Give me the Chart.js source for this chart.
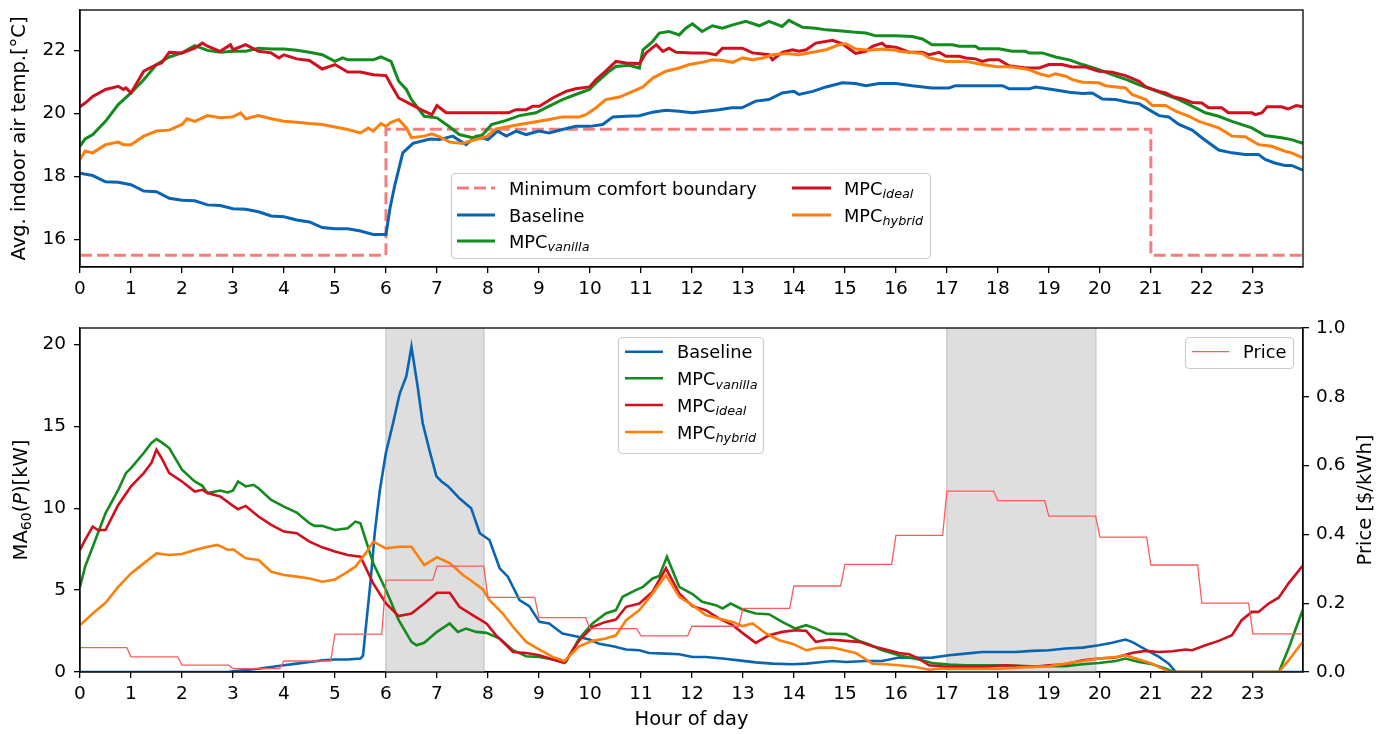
<!DOCTYPE html>
<html>
<head>
<meta charset="utf-8">
<script src="https://cdn.jsdelivr.net/npm/chart.js@4.4.1/dist/chart.umd.min.js"></script>
<style>
  body { margin: 0; background: #fff; }
  #wrap { position: relative; width: 1386px; height: 734px; }
  #tempBox { position: absolute; left: 0; top: 0; width: 1386px; height: 310px; }
  #powerBox { position: absolute; left: 0; top: 310px; width: 1386px; height: 424px; }
</style>
</head>
<body>
<div id="wrap">
  <div id="tempBox"><canvas id="tempChart"></canvas></div>
  <div id="powerBox"><canvas id="powerChart"></canvas></div>
</div>
<script>
// Hours axis (minute resolution, last sample at 23:59)
const dayEnd = 23 + 59 / 60;
const hourTicks = [0,1,2,3,4,5,6,7,8,9,10,11,12,13,14,15,16,17,18,19,20,21,22,23];

// Minimum comfort boundary: [start hour, level]
const comfortSteps = [[0, 15.5], [6, 19.5], [21, 15.5], [dayEnd, 15.5]];

// Average indoor air temperature [°C], [hour, value]
const tempBaseline = [[0,18.10],[0.25,18.03],[0.5,17.83],[0.75,17.82],[1,17.74],[1.25,17.54],[1.5,17.52],[1.75,17.31],[2,17.25],[2.25,17.23],[2.5,17.10],[2.75,17.08],[3,16.98],[3.25,16.96],[3.5,16.88],[3.75,16.75],[4,16.72],[4.25,16.62],[4.5,16.56],[4.75,16.38],[5,16.34],[5.25,16.34],[5.5,16.27],[5.75,16.16],[6,16.16],[6.08,17.0],[6.17,17.70],[6.33,18.75],[6.53,19.05],[6.86,19.19],[7.05,19.17],[7.31,19.28],[7.57,19.01],[7.77,19.28],[8.0,19.17],[8.19,19.44],[8.36,19.28],[8.55,19.44],[8.75,19.33],[9.0,19.44],[9.2,19.38],[9.46,19.49],[9.72,19.59],[10,19.59],[10.25,19.65],[10.45,19.89],[10.71,19.91],[10.97,19.93],[11.23,20.04],[11.49,20.10],[11.75,20.07],[12.01,20.02],[12.27,20.07],[12.53,20.12],[12.78,20.18],[12.98,20.18],[13.25,20.39],[13.51,20.44],[13.77,20.65],[14.0,20.70],[14.1,20.60],[14.37,20.70],[14.63,20.84],[14.95,20.97],[15.21,20.95],[15.41,20.88],[15.67,20.95],[16.0,20.95],[16.32,20.88],[16.71,20.81],[17.04,20.81],[17.17,20.88],[18.09,20.88],[18.22,20.78],[18.61,20.78],[18.74,20.84],[19.07,20.76],[19.4,20.67],[19.66,20.63],[19.85,20.65],[20.05,20.46],[20.31,20.44],[20.57,20.35],[20.77,20.31],[20.96,20.12],[21.16,19.93],[21.35,19.89],[21.55,19.65],[21.81,19.47],[22.0,19.23],[22.33,18.84],[22.59,18.75],[22.85,18.70],[23.11,18.70],[23.24,18.54],[23.43,18.43],[23.63,18.35],[23.76,18.35],[23.98,18.20]];
const tempVanilla = [[0,18.96],[0.1,19.19],[0.25,19.33],[0.5,19.75],[0.75,20.28],[1,20.65],[1.25,21.07],[1.5,21.55],[1.75,21.79],[2,21.92],[2.25,22.15],[2.5,22.00],[2.75,21.94],[3,21.97],[3.25,21.97],[3.5,22.07],[3.75,22.04],[4,22.04],[4.25,22.00],[4.5,21.94],[4.75,21.86],[5,21.65],[5.15,21.76],[5.25,21.70],[5.5,21.70],[5.75,21.70],[5.9,21.79],[6.1,21.65],[6.25,21.02],[6.4,20.76],[6.5,20.44],[6.75,19.91],[7,19.86],[7.25,19.57],[7.44,19.33],[7.7,19.23],[7.9,19.33],[8.07,19.65],[8.36,19.78],[8.62,19.93],[8.94,20.02],[9.2,20.23],[9.46,20.44],[9.72,20.60],[9.99,20.76],[10.12,20.97],[10.38,21.34],[10.51,21.49],[10.77,21.53],[10.97,21.44],[11.04,22.02],[11.23,22.28],[11.36,22.55],[11.55,22.60],[11.75,22.49],[11.88,22.70],[12.01,22.84],[12.2,22.60],[12.4,22.78],[12.6,22.70],[12.8,22.81],[13.06,22.92],[13.32,22.78],[13.51,22.92],[13.77,22.76],[13.9,22.95],[14.17,22.73],[14.43,22.70],[14.63,22.65],[14.89,22.62],[15.15,22.58],[15.41,22.55],[15.61,22.46],[16.0,22.46],[16.32,22.44],[16.52,22.36],[16.71,22.18],[17.11,22.18],[17.24,22.13],[17.56,22.13],[17.63,22.05],[18.02,22.05],[18.28,21.97],[18.54,21.97],[18.61,21.92],[18.87,21.92],[19.13,21.79],[19.4,21.70],[19.66,21.55],[19.98,21.39],[20.24,21.23],[20.5,21.09],[20.77,20.91],[21.03,20.76],[21.29,20.60],[21.55,20.44],[21.81,20.23],[22.07,20.02],[22.33,19.91],[22.59,19.75],[22.98,19.54],[23.24,19.30],[23.56,19.23],[23.76,19.17],[23.98,19.05]];
const tempIdeal = [[0,20.21],[0.1,20.33],[0.25,20.54],[0.5,20.76],[0.75,20.86],[0.85,20.76],[0.9,20.81],[1,20.65],[1.25,21.34],[1.5,21.55],[1.6,21.60],[1.75,21.94],[2,21.92],[2.25,22.07],[2.4,22.23],[2.5,22.13],[2.75,21.97],[2.95,22.18],[3,22.02],[3.25,22.18],[3.5,21.97],[3.75,21.92],[3.9,21.76],[4,21.86],[4.25,21.73],[4.5,21.68],[4.75,21.41],[5,21.55],[5.25,21.31],[5.5,21.31],[5.75,21.23],[6,21.20],[6.1,20.91],[6.25,20.49],[6.5,20.28],[6.75,20.07],[6.9,19.96],[7,20.25],[7.18,20.02],[8.4,20.02],[8.55,20.12],[8.75,20.12],[8.88,20.23],[9.01,20.23],[9.27,20.49],[9.53,20.70],[9.72,20.78],[9.99,20.84],[10.12,21.07],[10.31,21.34],[10.51,21.65],[10.71,21.60],[10.97,21.58],[11.1,21.92],[11.3,22.18],[11.43,21.97],[11.55,22.07],[11.69,21.94],[12.01,21.92],[12.27,21.92],[12.47,21.86],[12.6,22.07],[12.99,22.07],[13.19,21.92],[13.51,21.86],[13.58,21.70],[13.77,21.94],[13.97,22.02],[14.1,21.97],[14.24,22.02],[14.43,22.23],[14.76,22.32],[14.95,22.21],[15.15,21.97],[15.21,21.90],[15.41,21.97],[15.54,22.13],[15.73,22.23],[15.8,22.13],[16.0,22.10],[16.26,21.94],[16.52,21.94],[16.65,21.86],[16.85,21.94],[16.98,21.81],[17.24,21.81],[17.37,21.76],[17.56,21.73],[17.69,21.65],[17.82,21.70],[18.02,21.70],[18.22,21.51],[18.54,21.44],[18.81,21.44],[19.0,21.55],[19.26,21.55],[19.46,21.47],[19.72,21.47],[19.98,21.34],[20.24,21.31],[20.5,21.20],[20.77,21.02],[20.9,20.84],[21.16,20.70],[21.29,20.65],[21.42,20.54],[21.62,20.46],[21.81,20.35],[22.0,20.33],[22.13,20.18],[22.39,20.18],[22.52,20.02],[22.98,20.02],[23.05,19.96],[23.18,20.02],[23.28,20.21],[23.56,20.21],[23.69,20.14],[23.85,20.25],[23.98,20.21]];
const tempHybrid = [[0,18.54],[0.1,18.80],[0.25,18.75],[0.5,19.01],[0.75,19.09],[0.85,19.01],[1,19.01],[1.25,19.28],[1.5,19.44],[1.75,19.47],[2,19.65],[2.1,19.83],[2.25,19.75],[2.5,19.93],[2.75,19.86],[3,19.89],[3.15,20.02],[3.25,19.83],[3.5,19.93],[3.75,19.83],[4,19.75],[4.25,19.72],[4.5,19.68],[4.75,19.65],[5,19.57],[5.25,19.49],[5.5,19.38],[5.65,19.54],[5.75,19.44],[5.9,19.68],[6,19.59],[6.1,19.72],[6.25,19.81],[6.4,19.54],[6.5,19.23],[6.75,19.28],[6.9,19.35],[7.05,19.26],[7.25,19.09],[7.51,19.05],[7.7,19.15],[7.97,19.26],[8.16,19.51],[8.36,19.57],[8.62,19.65],[8.88,19.72],[9.2,19.81],[9.46,19.89],[9.79,19.89],[9.92,19.96],[10.12,20.18],[10.31,20.44],[10.58,20.52],[10.84,20.70],[11.04,20.84],[11.23,21.12],[11.49,21.34],[11.75,21.44],[11.95,21.55],[12.2,21.62],[12.4,21.70],[12.6,21.68],[12.8,21.62],[12.99,21.76],[13.19,21.70],[13.39,21.76],[13.58,21.86],[13.84,21.90],[14.1,21.86],[14.37,21.94],[14.63,22.02],[14.89,22.18],[15.02,22.21],[15.21,22.04],[15.47,22.00],[15.73,22.04],[16.0,22.00],[16.06,21.97],[16.52,21.90],[16.65,21.76],[16.98,21.65],[17.37,21.65],[17.69,21.55],[17.95,21.49],[18.28,21.47],[18.61,21.39],[18.81,21.26],[19.0,21.18],[19.13,21.26],[19.33,21.18],[19.46,21.07],[19.66,20.99],[19.98,20.97],[20.11,20.88],[20.5,20.81],[20.63,20.60],[20.9,20.44],[21.03,20.25],[21.29,20.25],[21.49,20.07],[21.75,19.91],[21.94,19.75],[22.33,19.54],[22.59,19.28],[22.85,19.26],[23.11,19.01],[23.37,18.96],[23.63,18.80],[23.76,18.75],[23.98,18.59]];

// 60-minute moving average of power [kW], [hour, value]
const powerBaseline = [[0,0],[2.9,0],[3,0.04],[3.5,0.2],[4,0.41],[4.25,0.51],[4.5,0.61],[4.75,0.71],[5,0.76],[5.25,0.76],[5.5,0.82],[5.55,1.0],[5.62,3.16],[5.7,5.6],[5.78,8.5],[5.88,11.1],[6.0,13.4],[6.14,15.2],[6.27,17.0],[6.4,18.06],[6.5,19.85],[6.62,17.45],[6.72,15.2],[6.85,13.57],[6.99,11.94],[7.09,11.63],[7.22,11.33],[7.35,10.9],[7.44,10.6],[7.67,10.0],[7.84,8.47],[8.03,8.06],[8.23,6.33],[8.39,5.82],[8.62,4.39],[8.81,4.02],[9.01,3.06],[9.2,2.96],[9.46,2.35],[9.72,2.18],[9.99,1.98],[10.18,1.73],[10.45,1.57],[10.71,1.37],[10.97,1.33],[11.16,1.16],[11.49,1.12],[11.75,1.08],[12.01,0.92],[12.27,0.92],[12.6,0.82],[12.92,0.71],[13.25,0.59],[13.58,0.51],[13.97,0.47],[14.24,0.51],[14.56,0.61],[14.76,0.67],[15.02,0.61],[15.41,0.67],[15.73,0.67],[16.06,0.88],[16.39,0.86],[16.71,0.88],[17.04,1.02],[17.37,1.12],[17.69,1.22],[18.35,1.22],[18.67,1.29],[19.0,1.33],[19.33,1.43],[19.66,1.49],[19.98,1.63],[20.24,1.78],[20.5,1.98],[20.63,1.84],[20.9,1.37],[21.16,0.92],[21.35,0.51],[21.49,0],[23.98,0]];
const powerVanilla = [[0,5.2],[0.1,6.43],[0.25,7.65],[0.5,9.69],[0.75,11.12],[0.9,12.14],[1,12.45],[1.25,13.37],[1.4,13.98],[1.5,14.22],[1.6,14.02],[1.75,13.67],[2,12.35],[2.25,11.63],[2.4,11.37],[2.5,10.92],[2.75,11.08],[2.9,10.96],[3,11.08],[3.1,11.63],[3.25,11.33],[3.4,11.43],[3.5,11.22],[3.75,10.51],[4,10.1],[4.25,9.73],[4.5,9.08],[4.6,8.92],[4.75,8.92],[5,8.67],[5.25,8.78],[5.4,9.18],[5.5,9.08],[5.75,6.63],[6,5.0],[6.25,3.16],[6.5,1.84],[6.6,1.63],[6.75,1.78],[7,2.45],[7.25,2.96],[7.41,2.45],[7.57,2.65],[7.77,2.45],[7.97,2.39],[8.23,2.04],[8.49,1.33],[8.75,0.96],[9.01,0.92],[9.27,0.76],[9.46,0.67],[9.53,0.61],[9.79,2.04],[10.05,2.96],[10.31,3.57],[10.51,3.78],[10.64,4.59],[10.9,5.0],[11.04,5.2],[11.23,5.71],[11.36,5.86],[11.51,7.04],[11.75,5.2],[12.01,4.76],[12.2,4.29],[12.47,4.08],[12.6,3.88],[12.76,4.18],[12.99,3.82],[13.25,3.57],[13.51,3.53],[13.77,3.06],[14.03,2.65],[14.24,2.86],[14.43,2.65],[14.63,2.35],[15.02,2.31],[15.28,1.9],[15.47,1.69],[15.73,1.33],[16.06,1.02],[16.26,0.88],[16.45,0.76],[16.71,0.55],[17.04,0.45],[17.37,0.41],[18.02,0.41],[18.67,0.35],[19.33,0.35],[19.66,0.47],[19.98,0.55],[20.31,0.67],[20.5,0.82],[20.77,0.61],[21.03,0.47],[21.29,0.2],[21.45,0],[23.51,0],[23.7,1.43],[23.83,2.55],[23.98,3.8]];
const powerIdeal = [[0,7.45],[0.1,8.06],[0.25,8.88],[0.35,8.67],[0.5,8.67],[0.6,9.29],[0.75,10.2],[1,11.33],[1.25,12.14],[1.4,12.76],[1.5,13.57],[1.6,13.06],[1.75,12.14],[2,11.63],[2.25,11.02],[2.4,11.12],[2.5,10.92],[2.75,10.71],[3,10.14],[3.1,9.94],[3.25,10.14],[3.5,9.49],[3.75,8.98],[4,8.57],[4.25,8.47],[4.5,7.96],[4.75,7.61],[5,7.35],[5.25,7.14],[5.5,7.04],[5.75,5.41],[6,4.18],[6.25,3.41],[6.5,3.57],[6.75,4.18],[7,4.84],[7.25,4.84],[7.44,3.98],[7.7,3.47],[7.97,2.96],[8.16,2.24],[8.36,1.63],[8.49,1.22],[8.75,1.16],[9.01,1.02],[9.27,0.76],[9.5,0.55],[9.79,1.94],[10.05,2.76],[10.31,3.06],[10.51,3.2],[10.71,3.98],[10.97,4.18],[11.23,4.9],[11.49,6.33],[11.75,4.8],[12.01,4.02],[12.27,3.78],[12.53,3.27],[12.8,2.86],[12.99,2.39],[13.25,1.78],[13.51,2.24],[13.77,2.45],[14.03,2.55],[14.24,2.51],[14.43,1.84],[14.7,1.98],[15.02,1.9],[15.28,1.84],[15.54,1.57],[15.8,1.37],[16.06,1.16],[16.26,1.08],[16.45,0.82],[16.65,0.41],[17.04,0.31],[17.69,0.31],[18.15,0.41],[18.67,0.31],[19.0,0.41],[19.33,0.47],[19.66,0.71],[19.98,0.82],[20.31,0.88],[20.63,1.16],[20.9,1.29],[21.16,1.22],[21.42,1.27],[21.68,1.37],[21.81,1.33],[22.07,1.63],[22.33,1.9],[22.59,2.24],[22.78,3.16],[22.98,3.67],[23.11,3.67],[23.31,4.18],[23.51,4.55],[23.7,5.41],[23.98,6.5]];
const powerHybrid = [[0,2.86],[0.25,3.57],[0.5,4.22],[0.75,5.2],[1,6.02],[1.25,6.63],[1.5,7.24],[1.75,7.14],[2,7.2],[2.25,7.45],[2.5,7.65],[2.7,7.76],[2.9,7.45],[3,7.49],[3.25,6.94],[3.5,6.84],[3.75,6.12],[4,5.92],[4.25,5.82],[4.5,5.71],[4.75,5.51],[5,5.65],[5.2,6.02],[5.4,6.43],[5.6,7.24],[5.75,7.96],[6,7.55],[6.25,7.65],[6.5,7.65],[6.75,6.53],[7,7.0],[7.25,6.65],[7.51,5.92],[7.7,5.51],[7.9,5.04],[8.03,4.39],[8.29,3.57],[8.49,2.76],[8.75,1.84],[9.01,1.37],[9.27,0.92],[9.5,0.67],[9.79,1.57],[10.05,1.9],[10.31,2.04],[10.51,2.24],[10.71,3.16],[10.97,3.78],[11.23,4.8],[11.49,5.92],[11.75,4.59],[12.01,4.08],[12.27,3.47],[12.53,3.27],[12.8,3.06],[12.99,2.8],[13.19,2.96],[13.45,2.35],[13.71,1.94],[13.97,1.73],[14.24,1.33],[14.5,1.49],[14.76,1.49],[15.21,1.16],[15.54,0.51],[15.8,0.47],[16.06,0.41],[16.39,0.31],[16.65,0.14],[16.85,0.2],[18.02,0.2],[18.67,0.31],[19.0,0.35],[19.33,0.51],[19.66,0.67],[19.98,0.82],[20.31,0.92],[20.5,1.02],[20.77,0.76],[21.03,0.51],[21.35,0],[23.51,0],[23.7,0.71],[23.98,1.85]];

// Hourly electricity price [$/kWh], index = hour of day
const priceByHour = [0.071,0.044,0.020,0.010,0.032,0.110,0.267,0.308,0.217,0.158,0.126,0.105,0.133,0.185,0.250,0.313,0.397,0.526,0.498,0.453,0.392,0.311,0.200,0.111];

// Peak-price windows shaded in grey, [start hour, end hour]
const peakWindows = [[6, 7.92], [17, 19.92]];

const FONT = '"DejaVu Sans", "Liberation Sans", sans-serif';
const FS = 17.8;        // legend text
const TICK_FS = 18.5;   // tick labels
const TITLE_FS = 19.5;  // axis titles
const BLUE = '#0a64b4', GREEN = '#138b1e', RED = '#d0101f', ORANGE = '#ff7f0e';
const COMFORT = '#f08080', PRICE = '#ff5a5a';
const COMFORT_DASH = [12, 5];

const pts = arr => arr.map(([x, y]) => ({ x, y }));

// price held flat through each hour, last 5 min ramps to the next hour
const pricePairs = [];
priceByHour.forEach((p, h) => {
  pricePairs.push([h, p]);
  pricePairs.push([h === 23 ? dayEnd : h + 55 / 60, p]);
});

Chart.defaults.font.family = FONT;
Chart.defaults.font.size = TICK_FS;
Chart.defaults.color = '#000';

// text with optional subscript / italic runs: [[text, style], ...]
function setRunFont(ctx, s, size) {
  const sub = s.includes('sub');
  ctx.font = (s.includes('it') ? 'italic ' : '') + (sub ? size * 0.72 : size) + 'px ' + FONT;
}

function drawRich(ctx, x, y, parts, size) {
  let cx = x;
  parts.forEach(([t, s]) => {
    setRunFont(ctx, s, size);
    ctx.fillText(t, cx, y + (s.includes('sub') ? size * 0.22 : 0));
    cx += ctx.measureText(t).width;
  });
  return cx - x;
}

function richWidth(ctx, parts, size) {
  let w = 0;
  parts.forEach(([t, s]) => {
    setRunFont(ctx, s, size);
    w += ctx.measureText(t).width;
  });
  return w;
}

function roundRect(ctx, x, y, w, h, r) {
  ctx.beginPath();
  ctx.moveTo(x + r, y);
  ctx.arcTo(x + w, y, x + w, y + h, r);
  ctx.arcTo(x + w, y + h, x, y + h, r);
  ctx.arcTo(x, y + h, x, y, r);
  ctx.arcTo(x, y, x + w, y, r);
  ctx.closePath();
}

// legend boxes drawn on top of the plot
function legendPlugin(id, boxes) {
  return {
    id,
    afterDraw(chart) {
      const ctx = chart.ctx;
      ctx.save();
      boxes.forEach(b => {
        roundRect(ctx, b.x + 0.5, b.y + 0.5, b.w, b.h, 4);
        ctx.fillStyle = 'rgba(255,255,255,0.8)';
        ctx.fill();
        ctx.strokeStyle = '#cccccc';
        ctx.lineWidth = 1.2;
        ctx.stroke();
        b.items.forEach(it => {
          ctx.beginPath();
          ctx.setLineDash(it.dash || []);
          ctx.strokeStyle = it.color;
          ctx.lineWidth = it.width;
          ctx.moveTo(it.x1, it.y);
          ctx.lineTo(it.x2, it.y);
          ctx.stroke();
          ctx.setLineDash([]);
          ctx.fillStyle = '#000';
          ctx.textAlign = 'left';
          ctx.textBaseline = 'alphabetic';
          drawRich(ctx, it.tx, it.y + 6.5, it.label, FS);
        });
      });
      ctx.restore();
    }
  };
}

const framePlugin = {
  id: 'frame',
  afterDatasetsDraw(chart) {
    const { ctx, chartArea: a } = chart;
    ctx.save();
    ctx.strokeStyle = '#000';
    ctx.lineWidth = 1.3;
    ctx.strokeRect(a.left, a.top, a.right - a.left, a.bottom - a.top);
    ctx.restore();
  }
};

const shadePlugin = {
  id: 'shade',
  beforeDatasetsDraw(chart) {
    const { ctx, chartArea: a, scales: { x } } = chart;
    ctx.save();
    peakWindows.forEach(([s, e]) => {
      const x0 = x.getPixelForValue(s), x1 = x.getPixelForValue(e);
      ctx.fillStyle = '#dedede';
      ctx.fillRect(x0, a.top, x1 - x0, a.bottom - a.top);
      ctx.strokeStyle = '#cbcbcb';
      ctx.lineWidth = 1.5;
      ctx.beginPath();
      ctx.moveTo(x0, a.top); ctx.lineTo(x0, a.bottom);
      ctx.moveTo(x1, a.top); ctx.lineTo(x1, a.bottom);
      ctx.stroke();
    });
    ctx.restore();
  }
};

// rotated y titles (read bottom to top, like the left one)
const powerTitlesPlugin = {
  id: 'powerTitles',
  afterDraw(chart) {
    const ctx = chart.ctx;
    const a = chart.chartArea;
    const cy = (a.top + a.bottom) / 2;
    const titles = [
      { x: 27, parts: [['MA', ''], ['60', 'sub'], ['(', ''], ['P', 'it'], [')[kW]', '']] },
      { x: 1371, parts: [['Price [$/kWh]', '']] }
    ];
    ctx.save();
    ctx.fillStyle = '#000';
    ctx.textBaseline = 'alphabetic';
    ctx.textAlign = 'left';
    titles.forEach(t => {
      const w = richWidth(ctx, t.parts, TITLE_FS);
      ctx.save();
      ctx.translate(t.x, cy);
      ctx.rotate(-Math.PI / 2);
      drawRich(ctx, -w / 2, 0, t.parts, TITLE_FS);
      ctx.restore();
    });
    ctx.restore();
  }
};

const axisLine = { color: '#000', width: 1.3 };
const tickGrid = { drawOnChartArea: false, drawTicks: true, tickLength: 6, color: '#000', lineWidth: 1.3 };

// fixed box sizes so both plots share the same frame
const fixWidth = w => s => { s.width = w; s.paddingTop = 0; s.paddingBottom = 0; };
const fixHeight = h => s => { s.height = h; s.paddingLeft = 0; s.paddingRight = 0; };

function hourAxis(height, title) {
  return {
    type: 'linear', min: 0, max: dayEnd,
    border: axisLine, grid: tickGrid,
    afterBuildTicks: s => { s.ticks = hourTicks.map(v => ({ value: v })); },
    ticks: { padding: 5, maxRotation: 0, autoSkip: false, callback: v => String(v) },
    title: title ? { display: true, text: title, font: { size: TITLE_FS }, padding: { top: 2, bottom: 2 } } : { display: false },
    afterFit: fixHeight(height)
  };
}

const line = (data, color, width, extra) => Object.assign({
  data: pts(data), borderColor: color, borderWidth: width,
  pointRadius: 0, tension: 0, fill: false
}, extra || {});

new Chart(document.getElementById('tempChart'), {
  type: 'line',
  data: {
    datasets: [
      line(tempHybrid, ORANGE, 3),
      line(tempIdeal, RED, 3),
      line(tempVanilla, GREEN, 3),
      line(tempBaseline, BLUE, 3),
      line(comfortSteps, COMFORT, 3, { stepped: 'before', borderDash: COMFORT_DASH })
    ]
  },
  options: {
    responsive: true, maintainAspectRatio: false, animation: false, devicePixelRatio: 1,
    layout: { padding: { top: 10, right: 83, left: 0, bottom: 0 } },
    plugins: { legend: { display: false }, tooltip: { enabled: false } },
    scales: {
      x: hourAxis(43, null),
      y: {
        type: 'linear', min: 15.13, max: 23.28,
        border: axisLine, grid: tickGrid,
        ticks: { stepSize: 2, includeBounds: false, padding: 8 },
        title: { display: true, text: 'Avg. indoor air temp.[°C]', font: { size: TITLE_FS }, padding: { top: 8, bottom: 0 } },
        afterFit: fixWidth(80)
      }
    }
  },
  plugins: [framePlugin, legendPlugin('tempLegend', [{
    x: 451, y: 173, w: 479, h: 85,
    items: [
      { label: [['Minimum comfort boundary', '']], color: COMFORT, width: 3, dash: COMFORT_DASH, x1: 457, x2: 495, y: 188, tx: 509 },
      { label: [['Baseline', '']], color: BLUE, width: 3, x1: 457, x2: 495, y: 215, tx: 509 },
      { label: [['MPC', ''], ['vanilla', 'subit']], color: GREEN, width: 3, x1: 457, x2: 495, y: 241, tx: 509 },
      { label: [['MPC', ''], ['ideal', 'subit']], color: RED, width: 3, x1: 792, x2: 831, y: 188, tx: 844 },
      { label: [['MPC', ''], ['hybrid', 'subit']], color: ORANGE, width: 3, x1: 792, x2: 831, y: 215, tx: 844 }
    ]
  }])]
});

new Chart(document.getElementById('powerChart'), {
  type: 'line',
  data: {
    datasets: [
      line(pricePairs, PRICE, 1.3, { yAxisID: 'yPrice' }),
      line(powerHybrid, ORANGE, 2.6),
      line(powerIdeal, RED, 2.6),
      line(powerVanilla, GREEN, 2.6),
      line(powerBaseline, BLUE, 2.6)
    ]
  },
  options: {
    responsive: true, maintainAspectRatio: false, animation: false, devicePixelRatio: 1,
    layout: { padding: { top: 18, right: 0, left: 0, bottom: 0 } },
    plugins: { legend: { display: false }, tooltip: { enabled: false } },
    scales: {
      x: hourAxis(62, 'Hour of day'),
      y: {
        type: 'linear', position: 'left', min: 0, max: 21.0,
        border: axisLine, grid: tickGrid,
        ticks: { stepSize: 5, includeBounds: false, padding: 8 },
        afterFit: fixWidth(80)
      },
      yPrice: {
        type: 'linear', position: 'right', min: 0, max: 1,
        border: axisLine, grid: tickGrid,
        ticks: { stepSize: 0.2, padding: 7, callback: v => v.toFixed(1) },
        afterFit: fixWidth(83)
      }
    }
  },
  plugins: [shadePlugin, framePlugin, powerTitlesPlugin, legendPlugin('powerLegend', [
    {
      x: 618, y: 27, w: 145, h: 116,
      items: [
        { label: [['Baseline', '']], color: BLUE, width: 2.6, x1: 625, x2: 663, y: 41.7, tx: 677 },
        { label: [['MPC', ''], ['vanilla', 'subit']], color: GREEN, width: 2.6, x1: 625, x2: 663, y: 68.3, tx: 677 },
        { label: [['MPC', ''], ['ideal', 'subit']], color: RED, width: 2.6, x1: 625, x2: 663, y: 95, tx: 677 },
        { label: [['MPC', ''], ['hybrid', 'subit']], color: ORANGE, width: 2.6, x1: 625, x2: 663, y: 122, tx: 677 }
      ]
    },
    {
      x: 1185, y: 27, w: 108, h: 31,
      items: [
        { label: [['Price', '']], color: PRICE, width: 1.3, x1: 1192, x2: 1229, y: 41.7, tx: 1243 }
      ]
    }
  ])]
});
</script>
</body>
</html>
